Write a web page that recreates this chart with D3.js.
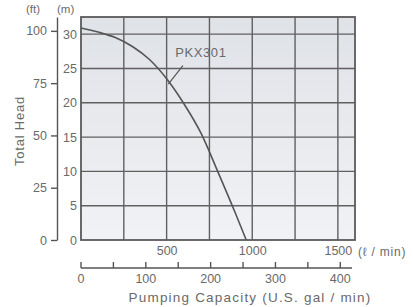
<!DOCTYPE html>
<html>
<head>
<meta charset="utf-8">
<script src="https://cdn.jsdelivr.net/npm/d3@7"></script>
<style>
  body { margin: 0; background: #fff; }
  text { font-family: "Liberation Sans", Arial, sans-serif; fill: #6a6a6a; }
</style>
</head>
<body>
<div id="chart"></div>
<script>
// pump curve PKX301 (flow in l/min, head in m)
const flowLpm = [0, 100, 200, 300, 400, 500, 600, 700, 800, 900, 965];
const headM   = [30.9, 30.3, 29.5, 28.2, 26.3, 23.5, 19.9, 15.6, 9.9, 4.0, 0];

const lpmTicks = [500, 1000, 1500];
const galTicks = [0, 100, 200, 300, 400];
const galMinor = [0, 50, 100, 150, 200, 250, 300, 350, 400];
const mTicks = [0, 5, 10, 15, 20, 25, 30];
const ftTicks = [0, 25, 50, 75, 100];
const seriesName = "PKX301";

const W = 413, H = 307;
let margin = {top: 17, right: 58, bottom: 67, left: 81},
    width = W - margin.left - margin.right,
    height = H - margin.top - margin.bottom;

const GAL = 3.785, FT = 0.3048;

let x = d3.scaleLinear().domain([0, 1600]).range([0, width]);
let y = d3.scaleLinear().domain([0, 32.5]).range([height, 0]);

let svg = d3.select("#chart").append("svg")
    .attr("width", W).attr("height", H);

let defs = svg.append("defs");
let grad = defs.append("linearGradient").attr("id", "bg")
    .attr("x1", 0).attr("y1", 0).attr("x2", 0).attr("y2", 1);
grad.append("stop").attr("offset", "0%").attr("stop-color", "#dfe2e7");
grad.append("stop").attr("offset", "100%").attr("stop-color", "#f1f2f5");

let g = svg.append("g")
    .attr("transform", "translate(" + margin.left + "," + margin.top + ")");

g.append("rect")
    .attr("width", width).attr("height", height)
    .attr("fill", "url(#bg)");

// grid
g.selectAll(".vgrid")
    .data(d3.range(250, 1600, 250))
    .enter().append("line")
    .attr("x1", d => x(d)).attr("x2", d => x(d))
    .attr("y1", 0).attr("y2", height)
    .attr("stroke", "#606060").attr("stroke-width", 1.4);

g.selectAll(".hgrid")
    .data(mTicks.filter(d => d > 0))
    .enter().append("line")
    .attr("x1", 0).attr("x2", width)
    .attr("y1", d => y(d)).attr("y2", d => y(d))
    .attr("stroke", "#606060").attr("stroke-width", 1.4);

g.append("rect")
    .attr("width", width).attr("height", height)
    .attr("fill", "none").attr("stroke", "#5a5a5a").attr("stroke-width", 1.8);

// curve
let pts = flowLpm.map((q, i) => [q, headM[i]]);
let line = d3.line()
    .x(d => x(d[0])).y(d => y(d[1]))
    .curve(d3.curveMonotoneX);

g.append("path")
    .datum(pts)
    .attr("d", line)
    .attr("fill", "none")
    .attr("stroke", "#555")
    .attr("stroke-width", 1.6);

// series label with leader
g.append("line")
    .attr("x1", x(510)).attr("y1", y(22.7))
    .attr("x2", x(595)).attr("y2", y(25.4))
    .attr("stroke", "#555").attr("stroke-width", 1.2);
g.append("text")
    .attr("x", x(550)).attr("y", y(26.7))
    .attr("font-size", 13)
    .attr("letter-spacing", 0.6)
    .text(seriesName);

// m axis (left side of plot)
let mAxis = g.append("g")
    .call(d3.axisLeft(y).tickValues(mTicks).tickSize(0).tickPadding(4));
mAxis.select(".domain").remove();
mAxis.selectAll("text").attr("font-size", 12.5).style("fill", "#6a6a6a");

// ft axis
let yFt = d3.scaleLinear().domain([0, 32.5 / FT]).range([height, 0]);
let ftAxis = g.append("g")
    .attr("transform", "translate(-24,0)")
    .call(d3.axisLeft(yFt).tickValues(ftTicks).tickSize(6).tickSizeOuter(0).tickPadding(4));
ftAxis.selectAll("path, line").attr("stroke", "#555").attr("stroke-width", 1.4);
ftAxis.selectAll("text").attr("font-size", 12.5).style("fill", "#6a6a6a");

// units
g.append("text").attr("x", -55).attr("y", -4).attr("font-size", 11.5).text("(ft)");
g.append("text").attr("x", -24).attr("y", -4).attr("font-size", 11.5).text("(m)");

// l/min axis
let lAxis = g.append("g")
    .attr("transform", "translate(0," + height + ")")
    .call(d3.axisBottom(x).tickValues(lpmTicks).tickFormat(d3.format("d")).tickSize(0).tickPadding(6));
lAxis.select(".domain").remove();
lAxis.selectAll("text").attr("font-size", 12.5).style("fill", "#6a6a6a");
g.append("text")
    .attr("x", x(1500) + 20).attr("y", height + 16)
    .attr("font-size", 12)
    .attr("letter-spacing", 0.8)
    .text("(\u2113 / min)");

// gal axis
let xGal = d3.scaleLinear().domain([0, 1600 / GAL]).range([0, width]);
let galG = g.append("g").attr("transform", "translate(0," + (height + 28) + ")");
galG.append("line")
    .attr("x1", 0).attr("x2", width - 3)
    .attr("stroke", "#555").attr("stroke-width", 1.4);
galG.selectAll(".gt")
    .data(galMinor)
    .enter().append("line")
    .attr("x1", d => xGal(d)).attr("x2", d => xGal(d))
    .attr("y1", 0).attr("y2", -6)
    .attr("stroke", "#555").attr("stroke-width", 1.4);
galG.selectAll(".gl")
    .data(galTicks)
    .enter().append("text")
    .attr("x", d => xGal(d)).attr("y", 15)
    .attr("text-anchor", "middle")
    .attr("font-size", 12.5)
    .text(d => d);

// titles
g.append("text")
    .attr("x", 169).attr("y", height + 62)
    .attr("text-anchor", "middle")
    .attr("font-size", 13.5)
    .attr("letter-spacing", 1.2)
    .text("Pumping Capacity  (U.S. gal / min)");

svg.append("text")
    .attr("transform", "translate(24,131) rotate(-90)")
    .attr("text-anchor", "middle")
    .attr("font-size", 13)
    .attr("letter-spacing", 0.8)
    .text("Total Head");
</script>
</body>
</html>
